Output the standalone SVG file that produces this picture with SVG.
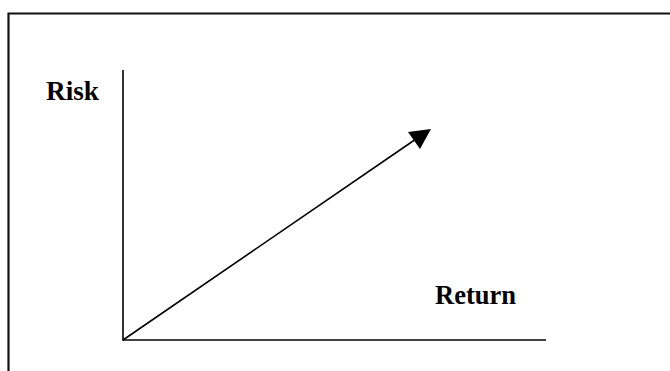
<svg xmlns="http://www.w3.org/2000/svg" width="670" height="371" viewBox="0 0 670 371">
<style>
.ln{stroke:#000;stroke-width:1.6;fill:none}
.lbl{font-family:"Liberation Serif","Times New Roman",serif;font-weight:bold;font-size:27px;fill:#000}
</style>
<rect width="670" height="371" fill="#fff"/>
<path d="M8.5 372 V13.5 H671" stroke="#111" stroke-width="2.2" fill="none"/>
<g id="axes">
<line class="ln" x1="123" y1="70" x2="123" y2="340.5"/>
<line class="ln" x1="122.5" y1="340" x2="546" y2="340"/>
</g>
<g id="connectors">
<line class="ln" x1="123" y1="340" x2="416" y2="139"/>
<polygon points="408,132 431,129 420,149" fill="#000"/>
</g>
<g id="risk"><text class="lbl" x="46" y="99.5" textLength="53" lengthAdjust="spacingAndGlyphs">Risk</text></g>
<g id="return"><text class="lbl" x="435" y="304" textLength="81" lengthAdjust="spacingAndGlyphs">Return</text></g>
</svg>
